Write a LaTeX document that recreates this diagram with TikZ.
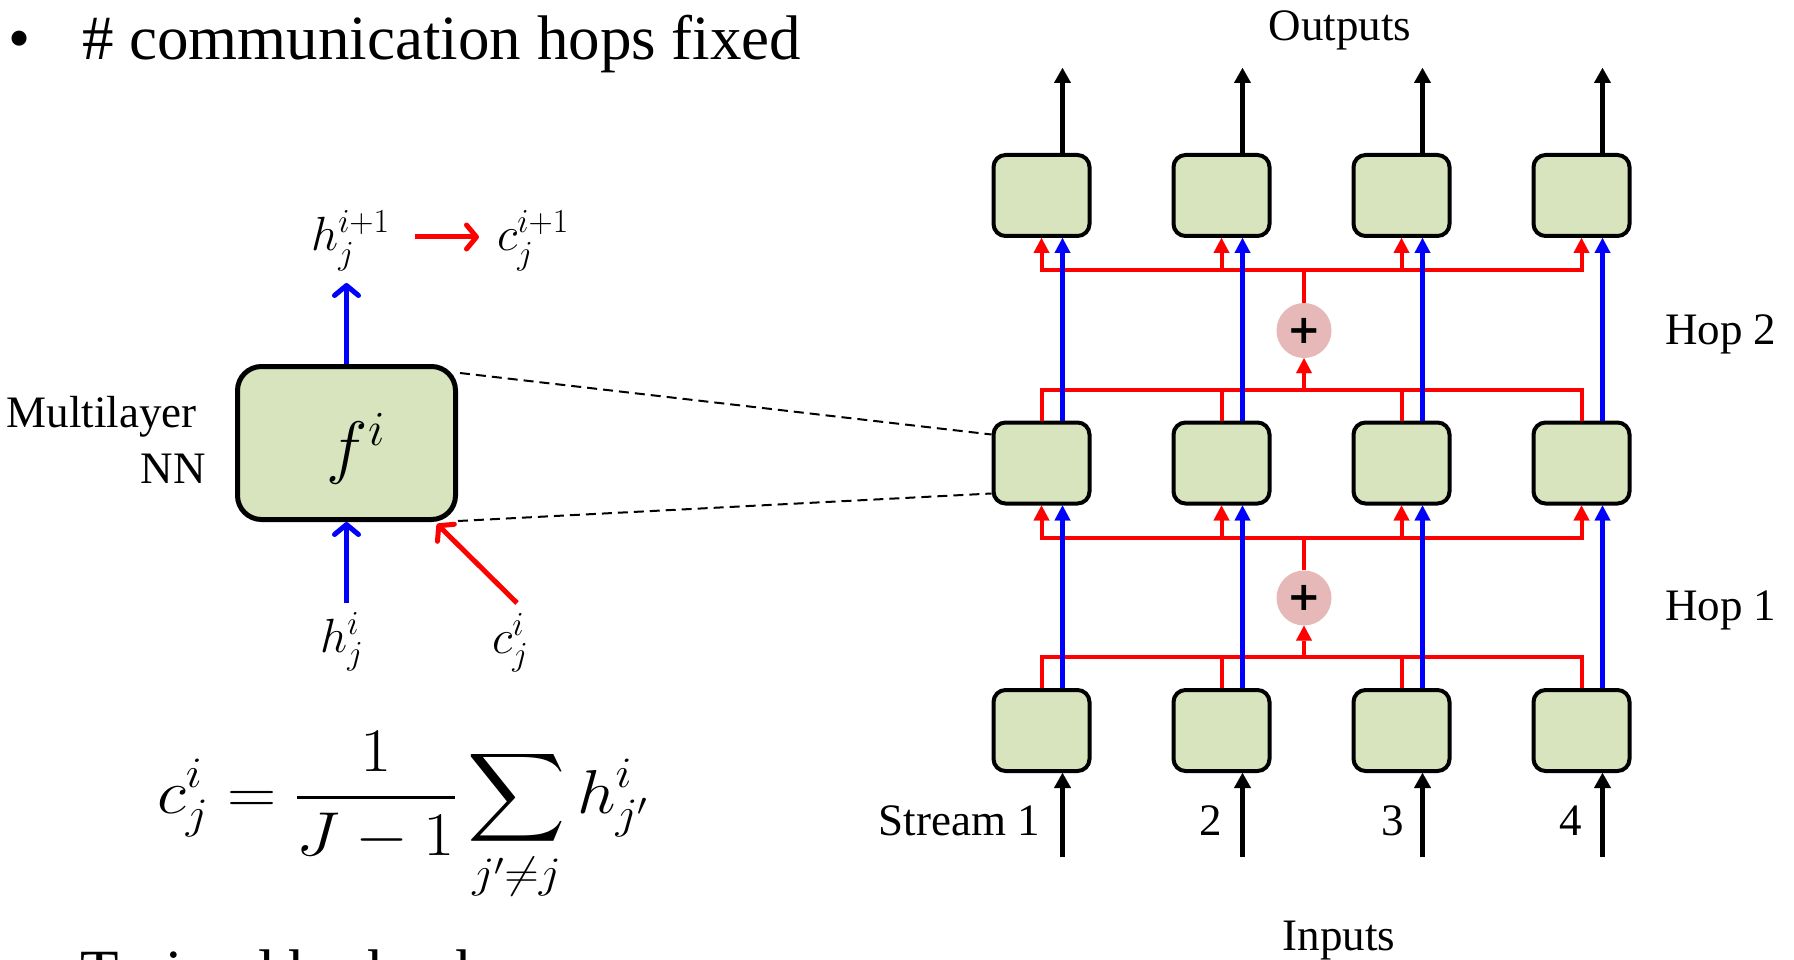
\RequirePackage{fix-cm}
\documentclass[tikz,border=0pt]{standalone}
\usepackage{amsmath}
\usepackage[no-math]{fontspec}
\setmainfont{Liberation Serif}
\newfontfamily\plusfont{DejaVu Sans}
\DeclareFontFamily{OMX}{cmex}{}
\DeclareFontShape{OMX}{cmex}{m}{n}{<-> cmex10}{}
\usetikzlibrary{arrows.meta,calc}
\definecolor{boxgreen}{HTML}{D7E4BD}
\definecolor{pluspink}{HTML}{E6B9B8}
\definecolor{myred}{HTML}{FF0000}
\definecolor{myblue}{HTML}{0000FF}
\begin{document}
\begin{tikzpicture}[x=1pt,y=-1pt,
  cell/.style={draw=black, line width=4pt, fill=boxgreen, rounded corners=12pt, minimum width=96pt, minimum height=81pt, inner sep=0pt},
  bigcell/.style={draw=black, line width=5pt, fill=boxgreen, rounded corners=24pt, minimum width=218pt, minimum height=153pt, inner sep=0pt},
  sumnode/.style={circle, fill=pluspink, minimum size=55pt, inner sep=0pt, font=\plusfont\bfseries\fontsize{40}{40}\selectfont},
  redline/.style={draw=myred, line width=4pt},
  redarr/.style={draw=myred, line width=4pt, -{Triangle[length=15pt,width=16pt,line width=0.1pt]}},
  bluearr/.style={draw=myblue, line width=4.5pt, -{Triangle[length=15pt,width=16pt,line width=0.1pt]}},
  blackarr/.style={draw=black, line width=4.5pt, -{Triangle[length=15pt,width=17pt,line width=0.1pt]}},
  openblue/.style={draw=myblue, line width=5pt, -{Straight Barb[length=10pt,width=24pt,round]}},
  openred/.style={draw=myred, line width=5pt, -{Straight Barb[length=10pt,width=24pt,round]}},
  dashline/.style={draw=black, line width=2pt, dash pattern=on 10pt off 6pt},
  txtT/.style={font=\fontsize{63}{72}\selectfont, inner sep=0pt},
  txtS/.style={font=\fontsize{45}{54}\selectfont, inner sep=0pt},
  mathS/.style={font=\fontsize{48}{58}\selectfont, inner sep=0pt},
]
\clip (0,0) rectangle (1794,960);
\fill[white] (0,0) rectangle (1794,960);

% title and bottom line
\node[txtT, anchor=base west] (bul) at (8,60) {•};
\node[txtT, anchor=base west] (title) at (82,60) {\# communication hops fixed};
\node[txtT, anchor=base west] (train) at (80,993) {Trained by backprop};

% left: single module
\node[bigcell] (fbox) at (346.5,443) {};
\node[font=\fontsize{70}{80}\selectfont, inner sep=0pt] (ftxt) at (356,449) {$f^i$};
\node[txtS, anchor=base east] (ml1) at (197,427) {Multilayer};
\node[txtS, anchor=base east] (ml2) at (206,483) {NN};

\node[mathS, anchor=base west] (hnext) at (311,251) {$h_j^{i+1}$};
\node[mathS, anchor=base west] (cnext) at (497,251) {$c_j^{i+1}$};
\node[mathS, anchor=base west] (hcur) at (320,652) {$h_j^{i}$};
\node[mathS, anchor=base west] (ccur) at (492,653) {$c_j^{i}$};

\coordinate (upTip) at (346.5,283);
\coordinate (hIn) at (346.5,603);
\coordinate (cIn) at (517,603);
\coordinate (cTip) at (437,524);
\coordinate (rA) at (415,237);
\coordinate (rB) at (479,237);
\draw[openblue] (fbox.north) -- (upTip);
\draw[openblue] (hIn) -- (fbox.south);
\draw[openred] (cIn) -- (cTip);
\draw[openred] (rA) -- (rB);

% equation
\node[anchor=base west, inner sep=0pt, font=\fontsize{62}{72}\selectfont, xscale=1.1, transform shape] (eq) at (157,813)
  {$\displaystyle c_j^i = \frac{1}{J-1}\sum_{j'\neq j} h_{j'}^i$};

% grid of modules
\foreach \c/\x in {1/1041.5,2/1221.5,3/1401.5,4/1581.5}{
  \foreach \r/\y in {1/195.5,2/463,3/730.5}{
    \node[cell] (b\r\c) at (\x,\y) {};
  }
  \coordinate (o\c) at (\x+21,68);
  \coordinate (i\c) at (\x+21,857);
}
\node[sumnode] (p2) at (1304,330.5) {+};
\node[sumnode] (p1) at (1304,598) {+};

\coordinate (U2) at (0,270);
\coordinate (L2) at (0,389.5);
\coordinate (U1) at (0,537.5);
\coordinate (L1) at (0,657);

% dashed zoom lines
\coordinate (dA) at (460,373);
\coordinate (dB) at (458,521);
\draw[dashline] (dA) -- ($(b21.north west)+(0,14)$);
\draw[dashline] (dB) -- ($(b21.south west)+(0,-12)$);

% red communication buses
\foreach \h/\lr/\ur in {1/3/2,2/2/1}{
  \draw[redline, line join=miter] (b\lr1.north) -- (b\lr1.north |- L\h) -- (b\lr4.north |- L\h) -- (b\lr4.north);
  \draw[redline] (b\lr2.north) -- (b\lr2.north |- L\h);
  \draw[redline] (b\lr3.north) -- (b\lr3.north |- L\h);
  \draw[redarr] (p\h |- L\h) -- (p\h.south);
  \draw[redline] (p\h.north) -- (p\h |- U\h);
  \draw[redline, line cap=rect] (b\ur1.south |- U\h) -- (b\ur4.south |- U\h);
  \foreach \c in {1,...,4}{
    \draw[redarr] (b\ur\c.south |- U\h) -- (b\ur\c.south);
  }
}

% blue hidden-state paths and black inputs/outputs
\foreach \c in {1,...,4}{
  \draw[bluearr] ([xshift=21pt]b3\c.north) -- ([xshift=21pt]b2\c.south);
  \draw[bluearr] ([xshift=21pt]b2\c.north) -- ([xshift=21pt]b1\c.south);
  \draw[blackarr] ([xshift=21pt]b1\c.north) -- (o\c);
  \draw[blackarr] (i\c) -- ([xshift=21pt]b3\c.south);
}

% labels on the grid
\node[txtS, anchor=base] (outl) at (1340,41) {Outputs};
\node[txtS, anchor=base] (inl) at (1339,950) {Inputs};
\node[txtS, anchor=base east] (s1) at (1040,835) {Stream 1};
\node[txtS, anchor=base east] (s2) at (1222,835) {2};
\node[txtS, anchor=base east] (s3) at (1404,835) {3};
\node[txtS, anchor=base east] (s4) at (1582,835) {4};
\node[txtS, anchor=base west] (hop2) at (1665,344) {Hop 2};
\node[txtS, anchor=base west] (hop1) at (1665,620) {Hop 1};
\end{tikzpicture}
\end{document}
